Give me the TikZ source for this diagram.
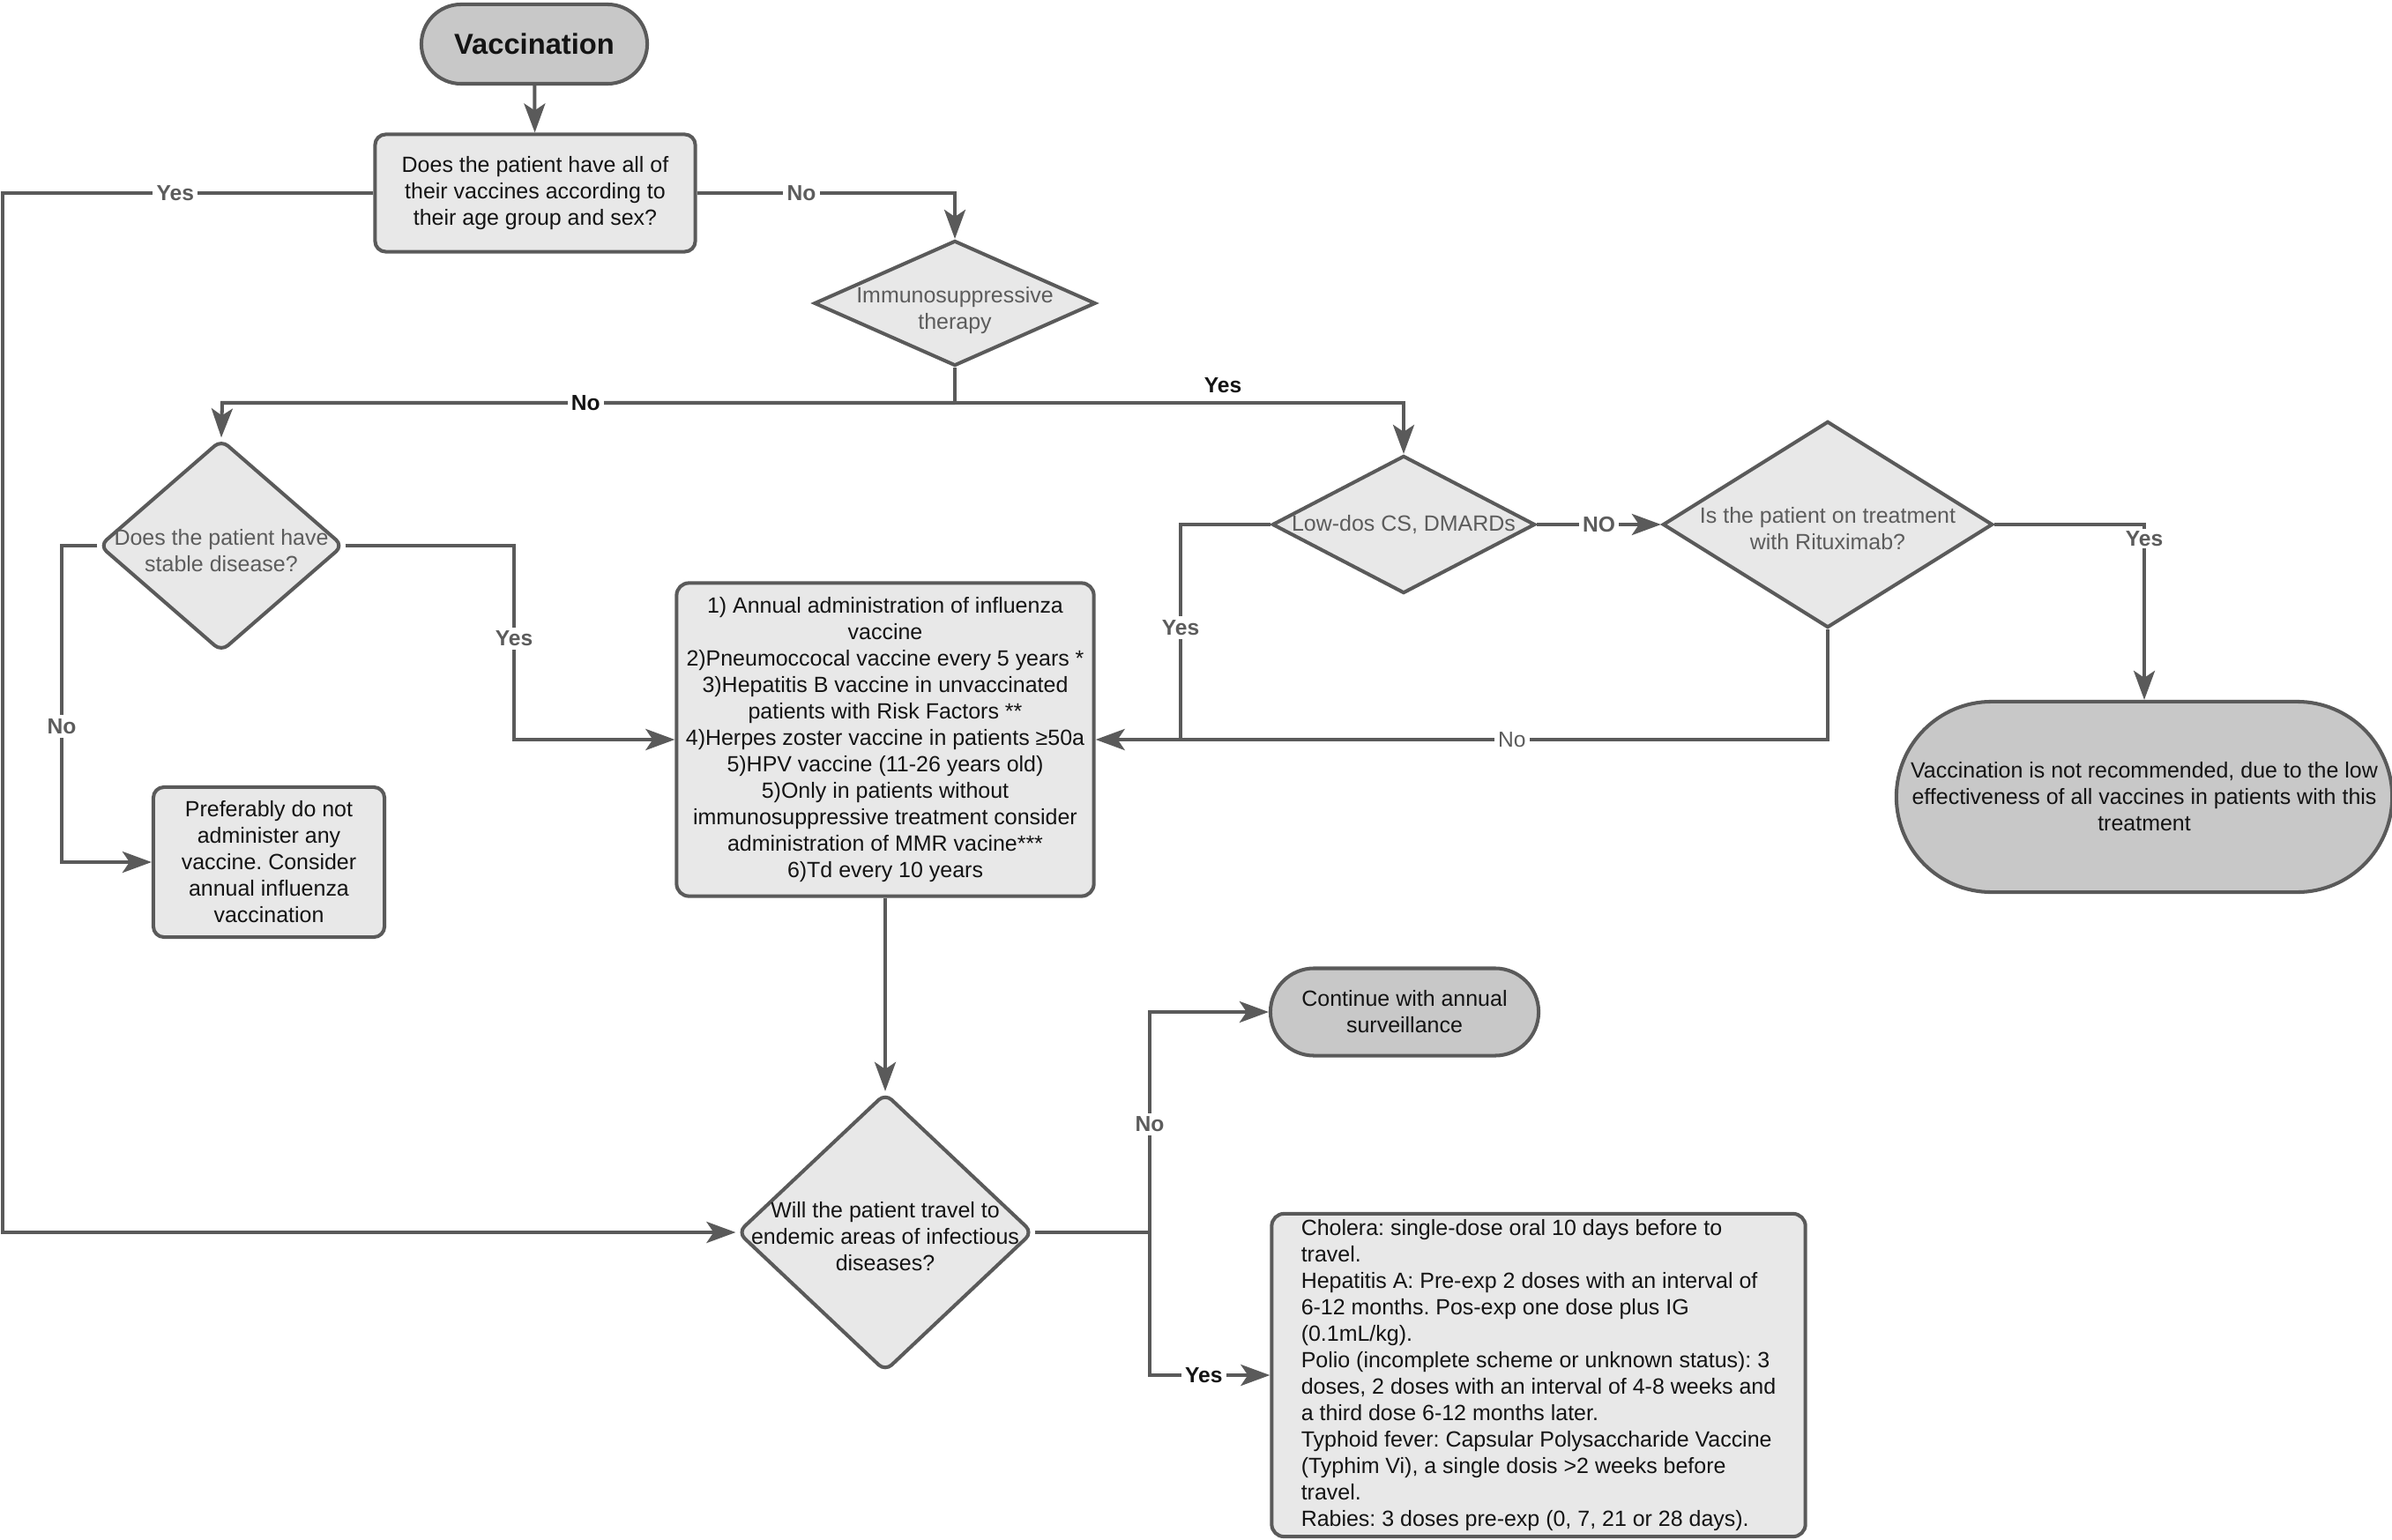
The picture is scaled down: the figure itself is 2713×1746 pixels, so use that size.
\documentclass[tikz,border=0pt]{standalone}
\usepackage{fontspec}
\setmainfont{Liberation Sans}
\frenchspacing
\usetikzlibrary{shapes.geometric, arrows.meta, calc}
\definecolor{ln}{HTML}{5A5A5A}
\definecolor{lfill}{HTML}{E8E8E8}
\definecolor{dfill}{HTML}{C8C8C8}
\definecolor{gtxt}{HTML}{5C5C5C}
\definecolor{btxt}{HTML}{141414}
\begin{document}
\begin{tikzpicture}[x=0.01cm, y=-0.01cm,
  base/.style={font=\fontsize{7.1}{8.54}\selectfont},
  boxs/.style={draw=ln, fill=lfill, line width=1.15pt, rounded corners=0.12cm, align=center, inner sep=0pt, text=btxt, base},
  term/.style={draw=ln, fill=dfill, line width=1.15pt, align=center, inner sep=0pt, text=btxt, base},
  dia/.style={diamond, draw=ln, fill=lfill, line width=1.15pt, inner sep=0pt},
  dtext/.style={align=center, base, text=gtxt, inner sep=0pt},
  arr/.style={draw=ln, line width=1.15pt, -{Stealth[length=0.33cm, width=0.24cm, inset=0.08cm]}},
  con/.style={draw=ln, line width=1.15pt},
  lab/.style={fill=white, inner sep=1.2pt, font=\fontsize{7}{8}\selectfont\bfseries, text=gtxt},
  labk/.style={lab, text=btxt},
  labr/.style={fill=white, inner sep=1.2pt, font=\fontsize{7}{8}\selectfont, text=gtxt},
]
\useasboundingbox (0,0) rectangle (2713,1746);

% nodes
\node[term, minimum width=2.56cm, minimum height=0.90cm, rounded corners=0.449cm,
      font=\fontsize{9.3}{11}\selectfont\bfseries] (vacc) at (606,50) {Vaccination};
\node[boxs, minimum width=3.63cm, minimum height=1.33cm] (q1) at (607,219)
  {Does the patient have all of\\their vaccines according to\\their age group and sex?};
\node[dia, minimum width=3.19cm, minimum height=1.42cm,
      label={[dtext, yshift=-0.08cm]center:{Immunosuppressive\\therapy}}] (imm) at (1083,344) {};
\node[dia, rounded corners=0.1cm, minimum width=2.77cm, minimum height=2.41cm,
      label={[dtext, yshift=-0.06cm]center:{Does the patient have\\stable disease?}}] (stab) at (251,619) {};
\node[boxs, minimum width=2.62cm, minimum height=1.70cm] (pref) at (305,978)
  {Preferably do not\\administer any\\vaccine. Consider\\annual influenza\\vaccination};
\node[boxs, minimum width=4.73cm, minimum height=3.55cm, rounded corners=0.14cm] (b2) at (1004,839)
  {1) Annual administration of influenza\\vaccine\\2)Pneumoccocal vaccine every 5 years *\\3)Hepatitis B vaccine in unvaccinated\\patients with Risk Factors **\\4)Herpes zoster vaccine in patients ≥50a\\5)HPV vaccine (11-26 years old)\\5)Only in patients without\\immunosuppressive treatment consider\\administration of MMR vacine***\\6)Td every 10 years};
\node[dia, minimum width=2.98cm, minimum height=1.56cm,
      label={[dtext]center:{Low-dos CS, DMARDs}}] (low) at (1592,595) {};
\node[dia, minimum width=3.74cm, minimum height=2.34cm,
      label={[dtext, yshift=-0.05cm]center:{Is the patient on treatment\\with Rituximab?}}] (rit) at (2073,595) {};
\node[term, minimum width=5.62cm, minimum height=2.16cm, rounded corners=1.079cm] (nrec) at (2432,904)
  {Vaccination is not recommended, due to the low\\effectiveness of all vaccines in patients with this\\treatment};
\node[dia, rounded corners=0.1cm, minimum width=3.35cm, minimum height=3.16cm,
      label={[dtext, text=btxt, yshift=-0.05cm]center:{Will the patient travel to\\endemic areas of infectious\\diseases?}}] (trav) at (1004,1398) {};
\node[term, minimum width=3.04cm, minimum height=0.99cm, rounded corners=0.494cm] (cont) at (1593,1148)
  {Continue with annual\\surveillance};
\node[boxs, minimum width=6.05cm, minimum height=3.66cm, rounded corners=0.14cm, align=left] (tbox) at (1745,1560)
  {Cholera: single-dose oral 10 days before to\\
   travel.\\
   Hepatitis A: Pre-exp 2 doses with an interval of\\
   6-12 months. Pos-exp one dose plus IG\\
   (0.1mL/kg).\\
   Polio (incomplete scheme or unknown status): 3\\
   doses, 2 doses with an interval of 4-8 weeks and\\
   a third dose 6-12 months later.\\
   Typhoid fever: Capsular Polysaccharide Vaccine\\
   (Typhim Vi), a single dosis >2 weeks before\\
   travel.\\
   Rabies: 3 doses pre-exp (0, 7, 21 or 28 days).};

% coordinates
\coordinate (c1) at (1083,219);
\coordinate (c2) at (3,219);
\coordinate (c3) at (3,1398);
\coordinate (br) at (1083,457);
\coordinate (brl) at (252,457);
\coordinate (brr) at (1592,457);
\coordinate (s1) at (70,619);
\coordinate (s2) at (70,978);
\coordinate (s3) at (583,619);
\coordinate (s4) at (583,839);
\coordinate (l1) at (1339,595);
\coordinate (j) at (1339,839);
\coordinate (r1) at (2073,839);
\coordinate (r2) at (2432,595);
\coordinate (t1) at (1304,1398);
\coordinate (t2) at (1304,1148);
\coordinate (t3) at (1304,1560);

% connectors
\draw[arr] (vacc) -- (q1);
\draw[arr] (q1.east) -- node[lab, pos=0.405] (lno1) {No} (c1) -- (imm.north);
\draw[arr] (q1.west) -- node[lab, pos=0.534] (lyes1) {Yes} (c2) -- (c3) -- (trav.west);
\draw[con] (imm.south) -- (br);
\draw[arr] (br) -- node[labk, pos=0.504] (lno2) {No} (brl) -- (stab.north);
\draw[arr] (br) -- (brr) -- (low.north);
\node[labk, fill=none] (lyes2) at (1387,437) {Yes};
\draw[arr] (stab.west) -- (s1) -- node[lab, pos=0.571] (lno3) {No} (s2) -- (pref.west);
\draw[arr] (stab.east) -- (s3) -- node[lab, pos=0.48] (lyes3) {Yes} (s4) -- (b2.west);
\draw[con] (low.west) -- (l1) -- node[lab, pos=0.48] (lyes4) {Yes} (j);
\draw[con] (rit.south) -- (r1) -- node[labr, pos=0.488] (lno4) {No} (j);
\draw[arr] (j) -- (b2.east);
\draw[arr] (low.east) -- node[lab] (lno5) {NO} (rit.west);
\draw[arr] (rit.east) -- (r2) -- (nrec.north);
\node[lab, inner sep=0.8pt] (lyes5) at (2432,611) {Yes};
\draw[arr] (b2.south) -- (trav.north);
\draw[con] (trav.east) -- (t1);
\draw[arr] (t1) -- node[lab, pos=0.49] (lno6) {No} (t2) -- (cont.west);
\draw[arr] (t1) -- (t3) -- node[labk, pos=0.45] (lyes6) {Yes} (tbox.west);
\end{tikzpicture}
\end{document}
